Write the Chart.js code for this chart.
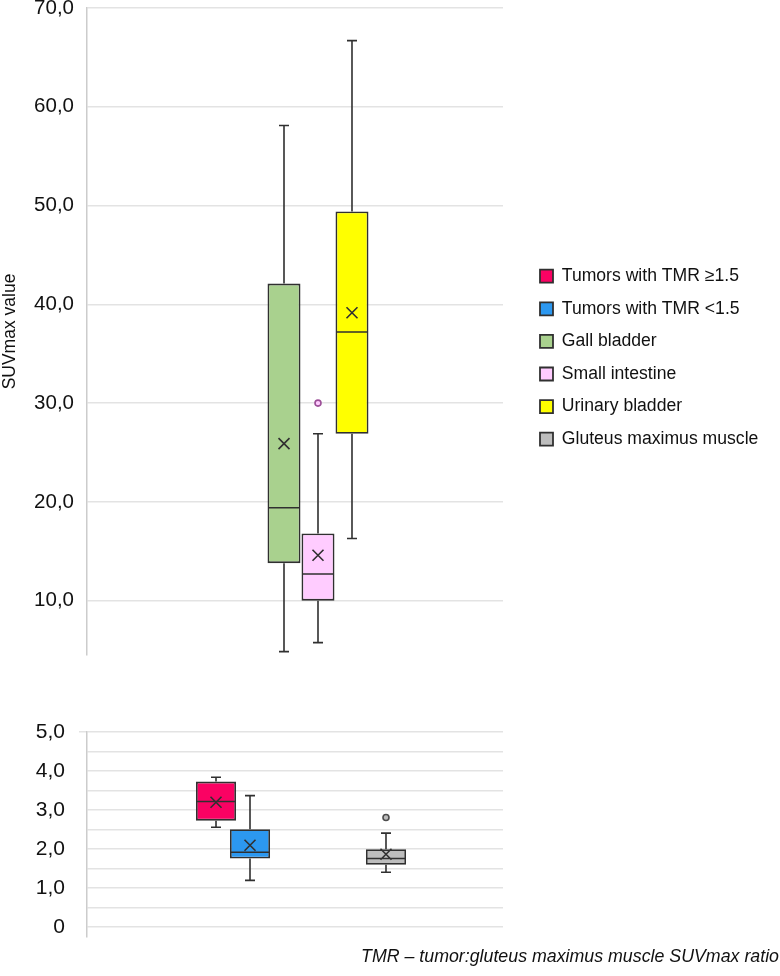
<!DOCTYPE html>
<html>
<head>
<meta charset="utf-8">
<title>SUVmax box plot</title>
<script src="https://cdn.jsdelivr.net/npm/chart.js@4.4.1/dist/chart.umd.min.js"></script>
<style>
  html, body { margin: 0; padding: 0; background: #fff; }
  #wrap { position: relative; width: 780px; height: 976px; }
  #note {
    position: absolute; right: 1px; top: 946px;
    font: italic 17.8px 'Liberation Sans', Arial, sans-serif;
    line-height: 20px; color: #111; white-space: nowrap;
  }
</style>
</head>
<body>
<div id="wrap">
  <canvas id="chart"></canvas>
  <div id="note">TMR – tumor:gluteus maximus muscle SUVmax ratio</div>
</div>
<script>
// values (SUVmax)
const seriesNames = ['Tumors with TMR ≥1.5', 'Tumors with TMR <1.5', 'Gall bladder',
                     'Small intestine', 'Urinary bladder', 'Gluteus maximus muscle'];
const panel       = ['low', 'low', 'high', 'high', 'high', 'low'];
const whiskerLow  = [2.56, 1.20, 4.84, 5.75, 16.3, 1.41];
const q1          = [2.73, 1.76, 13.8, 10.0, 26.9, 1.60];
const median      = [3.22, 1.92, 19.4, 12.7, 37.2, 1.76];
const q3          = [3.73, 2.51, 42.1, 16.8, 49.4, 2.00];
const whiskerHigh = [3.84, 3.37, 58.1, 26.9, 66.7, 2.41];
const means       = [3.20, 2.10, 25.9, 14.6, 39.15, 1.87];
const outliers    = [[], [], [], [30.0], [], [2.81]];

// axis ticks
const upperTicks = [10, 20, 30, 40, 50, 60, 70];
const lowerTicks = [0, 0.5, 1, 1.5, 2, 2.5, 3, 3.5, 4, 4.5, 5];

// styling
const fills = ['#FA0263', '#2C98F0', '#A9D18E', '#FFCCFF', '#FFFF00', '#BDBDBD'];
const outlierEdge = ['#333', '#333', '#333', '#9C4F98', '#333', '#4D4D4D'];
const ink = '#303030';
const textColor = '#111111';
const gridColor = '#e3e3e3';
const axisColor = '#cccccc';
const gridRight = 503;
const legendLeft = 525;

Chart.defaults.font.family = "'Liberation Sans', Arial, sans-serif";
Chart.defaults.color = textColor;

const fmt = v => {
  if (v % 1 !== 0) return '';
  return v === 0 ? '0' : v.toFixed(1).replace('.', ',');
};

// gridlines stop short of the right end of the plot area
const gridMask = {
  id: 'gridMask',
  beforeDatasetsDraw(chart) {
    const {ctx, chartArea} = chart;
    ctx.save();
    ctx.fillStyle = '#fff';
    ctx.fillRect(gridRight, chartArea.top - 2, chartArea.right - gridRight + 2, chartArea.bottom - chartArea.top + 4);
    ctx.restore();
  }
};

// whiskers, median, mean marker and outliers on top of the floating bars
const boxExtras = {
  id: 'boxExtras',
  afterDatasetsDraw(chart) {
    const ctx = chart.ctx;
    chart.data.datasets.forEach((ds, i) => {
      const bar = chart.getDatasetMeta(i).data[0];
      if (!bar) return;
      const ys = chart.scales[ds.yAxisID];
      const py = v => ys.getPixelForValue(v);
      const x = bar.x;
      const half = bar.width / 2;
      const cap = 5;
      const m = 5.5;

      ctx.save();
      ctx.strokeStyle = ink;
      ctx.lineWidth = 1.6;
      ctx.beginPath();
      ctx.moveTo(x, py(q3[i])); ctx.lineTo(x, py(whiskerHigh[i]));
      ctx.moveTo(x - cap, py(whiskerHigh[i])); ctx.lineTo(x + cap, py(whiskerHigh[i]));
      ctx.moveTo(x, py(q1[i])); ctx.lineTo(x, py(whiskerLow[i]));
      ctx.moveTo(x - cap, py(whiskerLow[i])); ctx.lineTo(x + cap, py(whiskerLow[i]));
      ctx.moveTo(x - half + 1, py(median[i])); ctx.lineTo(x + half - 1, py(median[i]));
      const my = py(means[i]);
      ctx.moveTo(x - m, my - m); ctx.lineTo(x + m, my + m);
      ctx.moveTo(x - m, my + m); ctx.lineTo(x + m, my - m);
      ctx.stroke();

      outliers[i].forEach(v => {
        ctx.beginPath();
        ctx.arc(x, py(v), 3, 0, Math.PI * 2);
        ctx.fillStyle = fills[i];
        ctx.fill();
        ctx.strokeStyle = outlierEdge[i];
        ctx.stroke();
      });
      ctx.restore();
    });
  }
};

const datasets = seriesNames.map((name, i) => ({
  label: name,
  data: [[q1[i], q3[i]]],
  yAxisID: panel[i] === 'high' ? 'yTop' : 'yBot',
  backgroundColor: fills[i],
  borderColor: ink,
  borderWidth: 1.8,
  borderSkipped: false,
  categoryPercentage: 0.4766,
  barPercentage: panel[i] === 'high' ? 0.97 : 1.18
}));

const flatPad = s => { s.paddingTop = 0; s.paddingBottom = 0; };
const blankAxis = { grid: { display: false }, ticks: { display: false }, border: { display: false } };

new Chart(document.getElementById('chart'), {
  type: 'bar',
  data: { labels: [''], datasets },
  options: {
    responsive: true,
    maintainAspectRatio: false,
    animation: false,
    layout: { padding: { top: 8, right: 0, bottom: 39, left: 0 } },
    plugins: {
      tooltip: { enabled: false },
      legend: {
        position: 'right',
        align: 'start',
        maxWidth: 255,
        title: { display: true, text: ' ', padding: { top: 224, bottom: 0 }, font: { size: 17 } },
        labels: { boxWidth: 13, boxHeight: 13, padding: 15, font: { size: 17.6 }, color: textColor }
      }
    },
    scales: {
      x: { display: false },
      yTop: {
        type: 'linear', position: 'left', stack: 'v', stackWeight: 647, weight: 3,
        min: 4.5, max: 70,
        afterBuildTicks: s => { s.ticks = upperTicks.map(v => ({ value: v })); },
        afterFit: s => { s.width = 87; flatPad(s); },
        grid: { color: gridColor, lineWidth: 1.5, drawTicks: false },
        border: { color: axisColor, width: 1.5 },
        ticks: { padding: 13, autoSkip: false, font: { size: 20.5 }, color: textColor, callback: v => fmt(v) },
        title: { display: true, text: 'SUVmax value', font: { size: 17.5 }, color: textColor, padding: { top: 0, bottom: 0 } }
      },
      yGap: {
        type: 'linear', position: 'left', stack: 'v', stackWeight: 77, weight: 2,
        min: 0, max: 1,
        afterFit: s => { s.width = 87; flatPad(s); },
        ...blankAxis
      },
      yBot: {
        type: 'linear', position: 'left', stack: 'v', stackWeight: 205, weight: 1,
        min: -0.25, max: 5,
        afterBuildTicks: s => { s.ticks = lowerTicks.map(v => ({ value: v })); },
        afterFit: s => { s.width = 87; flatPad(s); },
        grid: {
          color: gridColor, lineWidth: 1.5, drawTicks: true, tickLength: 8,
          tickColor: c => (c.tick && c.tick.value === 5 ? gridColor : 'rgba(0,0,0,0)')
        },
        border: { color: axisColor, width: 1.5 },
        ticks: { padding: 14, autoSkip: false, font: { size: 21 }, color: textColor, callback: v => fmt(v) }
      },
      // spacer between plot area and legend
      yPad: {
        type: 'linear', position: 'right', weight: 0,
        afterFit: s => { s.width = 10; },
        ...blankAxis
      },
      // spacer outside the legend, absorbs whatever the legend leaves over
      yOuter: {
        type: 'linear', position: 'right', weight: 2000,
        afterFit: s => { s.width = Math.max(0, s.chart.width - legendLeft - s.chart.legend.width); },
        ...blankAxis
      }
    }
  },
  plugins: [gridMask, boxExtras]
});
</script>
</body>
</html>
